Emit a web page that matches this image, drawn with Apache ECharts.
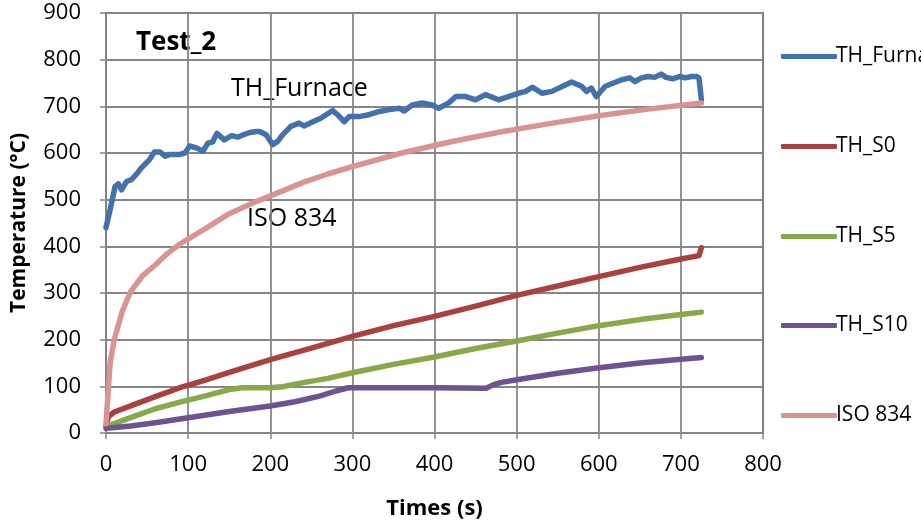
<!DOCTYPE html>
<html>
<head>
<meta charset="utf-8">
<script src="https://cdn.jsdelivr.net/npm/echarts@6/dist/echarts.min.js"></script>
<style>html,body{margin:0;padding:0;background:#fff;}#c{width:921px;height:524px;}</style>
</head>
<body>
<div id="c"></div>
<script>
const xTicks = [0,100,200,300,400,500,600,700,800];
const yTicks = [0,100,200,300,400,500,600,700,800,900];

const furnaceTime = [0,1,5,11,15,19,25,31,37,43,47,53,59,66,72,78,90,96,102,110,118,124,130,135,144,153,161,167,175,183,187,195,203,209,215,225,235,241,252,262,268,276,282,290,296,308,320,333,345,357,363,373,385,397,405,417,426,438,450,462,478,490,502,511,519,531,543,551,567,579,585,591,597,608,618,628,638,644,652,660,668,676,682,690,699,705,713,719,722,725];
const furnaceTemp = [440,448,478,528,534,521,539,543,554,568,575,586,602,602,593,597,597,600,615,611,604,621,624,642,628,637,634,639,644,646,646,639,618,625,639,657,664,658,667,675,682,691,682,667,678,678,682,689,693,696,690,703,707,703,696,707,721,721,714,725,714,721,728,732,741,728,732,739,752,743,732,739,721,743,750,757,761,753,761,764,762,769,762,759,764,761,764,764,761,714];

const s0Time = [0,3,10,30,60,90,120,150,200,250,300,350,400,450,500,550,600,650,700,722,725];
const s0Temp = [15,35,45,58,78,97,113,130,157,182,207,230,250,272,295,315,335,355,373,380,397];

const s5Time = [0,30,60,90,120,150,165,200,215,240,270,300,350,400,450,500,550,600,650,700,725];
const s5Temp = [14,33,52,66,79,93,97,97,99,108,117,129,147,163,181,197,214,230,243,254,259];

const s10Time = [0,30,60,90,120,150,200,230,260,280,295,350,400,463,470,480,500,550,600,650,700,725];
const s10Temp = [10,15,22,30,38,46,58,67,79,90,97,97,97,96,102,108,114,128,140,150,158,162];

const isoTime = [0,5,10,20,30,45,60,75,90,120,150,180,210,240,270,300,360,420,480,540,600,660,725];
const isoTemp = [20,150,200,262,303,338,360,385,405,437,470,494,515,537,555,571,600,624,645,663,680,694,707];

const pair = (t, v) => t.map((x, i) => [x, v[i]]);

const names = ['TH_Furnace','TH_S0','TH_S5','TH_S10','ISO 834'];
const colors = ['#4471AB','#A9423F','#88A94A','#6F5290','#D89393'];
const datas = [pair(furnaceTime,furnaceTemp),pair(s0Time,s0Temp),pair(s5Time,s5Temp),pair(s10Time,s10Temp),pair(isoTime,isoTemp)];
const legendTops = [54,144,234,323,413];

const FONT = 'Open Sans';
const chart = echarts.init(document.getElementById('c'), null, {renderer:'canvas'});
chart.setOption({
  animation:false,
  backgroundColor:'#fff',
  grid:{left:106,top:13,right:158,bottom:91,show:true,borderColor:'#000',borderWidth:1.5,backgroundColor:'transparent',outerBoundsMode:'none',containLabel:false},
  xAxis:{type:'value',min:0,max:800,interval:100,
    name:'Times (s)',nameLocation:'middle',nameGap:65,
    nameTextStyle:{fontFamily:FONT,fontWeight:'bold',fontSize:22,color:'#000'},
    axisLine:{lineStyle:{color:'#868686',width:1.5}},
    axisTick:{show:true,length:6,lineStyle:{color:'#868686',width:1.5}},
    axisLabel:{fontFamily:FONT,fontSize:22,color:'#000',margin:21},
    splitLine:{show:true,lineStyle:{color:'#868686',width:1.8}}},
  yAxis:{type:'value',min:0,max:900,interval:100,
    name:'Temperature (°C)',nameLocation:'middle',nameGap:76,
    nameTextStyle:{fontFamily:FONT,fontWeight:'bold',fontSize:21,color:'#000'},
    axisLine:{show:true,lineStyle:{color:'#868686',width:1.5}},
    axisTick:{show:true,length:6,lineStyle:{color:'#868686',width:1.5}},
    axisLabel:{fontFamily:FONT,fontSize:22,color:'#000',margin:25},
    splitLine:{show:true,lineStyle:{color:'#868686',width:1.8}}},
  legend: names.map((n,i)=>({
    data:[n], orient:'vertical', left:776, top:legendTops[i]-13,
    icon:'roundRect', itemWidth:56, itemHeight:5, itemGap:0,
    textStyle:{fontFamily:FONT,fontSize:21,color:'#000',padding:[0,0,0,-6]},
    inactiveColor:'#ccc'
  })),
  series: names.map((n,i)=>({
    name:n,type:'line',data:datas[i],showSymbol:false,symbol:'none',
    lineStyle:{color:colors[i],width:5.5,cap:'round',join:'round'},
    itemStyle:{color:colors[i]},
    smooth:false
  })),
  graphic:[
    {type:'text',left:136,top:30,style:{text:'Test_2',font:'bold 26px "Open Sans"',fill:'#000'}},
    {type:'text',left:231,top:76,style:{text:'TH_Furnace',font:'25px "Open Sans"',fill:'#000'}},
    {type:'text',left:247,top:206,style:{text:'ISO 834',font:'25px "Open Sans"',fill:'#000'}}
  ]
});
</script>
</body>
</html>
